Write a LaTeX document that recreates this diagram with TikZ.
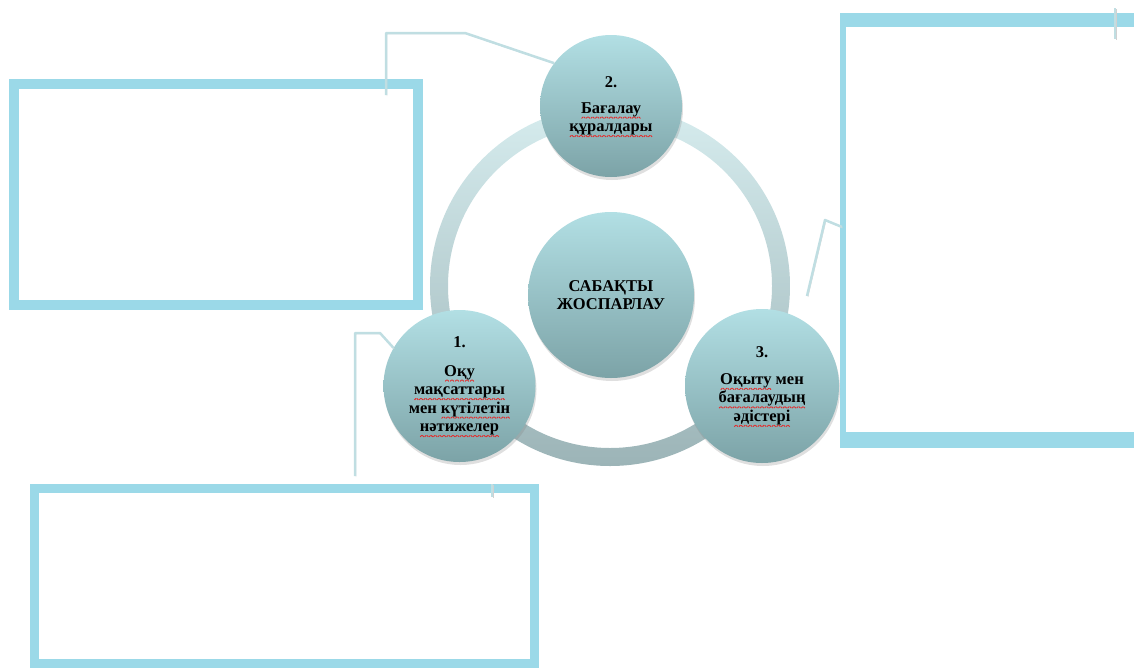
\documentclass[tikz,border=0pt]{standalone}
\usepackage{fontspec}
\setmainfont{Liberation Serif}
\usetikzlibrary{shadows}
\definecolor{fr}{RGB}{155, 217, 232}
\definecolor{ct}{RGB}{178, 223, 228}
\definecolor{cb}{RGB}{124, 163, 167}
\definecolor{rt}{RGB}{214, 236, 238}
\definecolor{rd}{RGB}{156, 180, 183}
\definecolor{ln}{RGB}{192, 222, 226}
\definecolor{wv}{RGB}{230, 40, 40}
\newsavebox\sqbox
\newcommand\zig{\hbox{\rotatebox{45}{\rule{2.2pt}{0.9pt}}\raisebox{1.55pt}{\rotatebox{-45}{\rule{2.2pt}{0.9pt}}}}}
\newcommand\sq[1]{\sbox\sqbox{#1}\rlap{\usebox\sqbox}\raisebox{-5.5pt}[0pt][0pt]{\color{wv}\hbox to \wd\sqbox{\xleaders\zig\hfill}}}
\tikzset{
  frame/.style={rectangle, draw=fr},
  ball/.style={circle, top color=ct, bottom color=cb, align=center,
    drop shadow={shadow xshift=1pt, shadow yshift=-3pt, opacity=0.25},
    font=\bfseries\fontsize{16.5}{18.5}\selectfont},
  link/.style={line width=2.5pt, color=ln, line join=round,
    preaction={draw=black!18, transform canvas={shift={(1pt,-1pt)}}}}
}

\begin{document}
\begin{tikzpicture}[every node/.style={inner sep=0pt}]
\clip (0pt, 0pt) rectangle (1134pt, -667pt);
\node (4) [frame, line width=10pt, minimum width=404pt, minimum height=221pt] at (216pt, -194.5pt) {};
\node (5) [frame, line width=9pt, minimum width=500pt, minimum height=175pt] at (284.5pt, -576pt) {};
\node (6) [frame, line width=6pt, minimum width=307pt, minimum height=429pt] at (996.5pt, -230.5pt) {};
\fill [fr] (6.north west) rectangle ([yshift=-14pt]6.north east);
\fill [fr] (6.south west) rectangle ([yshift=16pt]6.south east);
% ring
\coordinate (r) at (610pt, -286pt);
\shade [top color=rt, bottom color=rd, even odd rule] (r) circle (180pt) (r) circle (162pt);
% ends of the links
\coordinate (7) at (386pt, -95pt);
\coordinate (8) at (355pt, -476pt);
\coordinate (9) at (807pt, -296pt);
\coordinate (10) at (842pt, -227pt);
\coordinate (11) at (1115pt, -8pt);
\coordinate (12) at (1115pt, -39pt);
\coordinate (13) at (492pt, -484pt);
\coordinate (14) at (492pt, -497pt);
\node (0) [ball, minimum size=166pt] at (611pt, -295pt) {САБАҚТЫ\\ЖОСПАРЛАУ};
\node (2) [ball, minimum size=142pt] at (611pt, -106pt) {2.\\[7pt]\sq{Бағалау}\\\sq{құралдары}};
\node (1) [ball, minimum size=152pt] at (459.5pt, -386pt) {1.\\[10pt]\sq{Оқу}\\\sq{мақсаттары}\\мен \sq{күтілетін}\\\sq{нәтижелер}};
\node (3) [ball, minimum size=154pt] at (762pt, -386pt) {3.\\[8pt]\sq{Оқыту} мен\\\sq{бағалаудың}\\\sq{әдістері}};
\draw [link] (2.143) -- (465pt, -33pt) -- (386pt, -33pt) -- (7);
\draw [link] (1.150) -- (380pt, -333pt) -- (355pt, -333pt) -- (8);
\draw [link] (9) -- (825pt, -220pt) -- (10);
\draw [link] (11) -- (12);
\draw [link] (13) -- (14);
\end{tikzpicture}
\end{document}
